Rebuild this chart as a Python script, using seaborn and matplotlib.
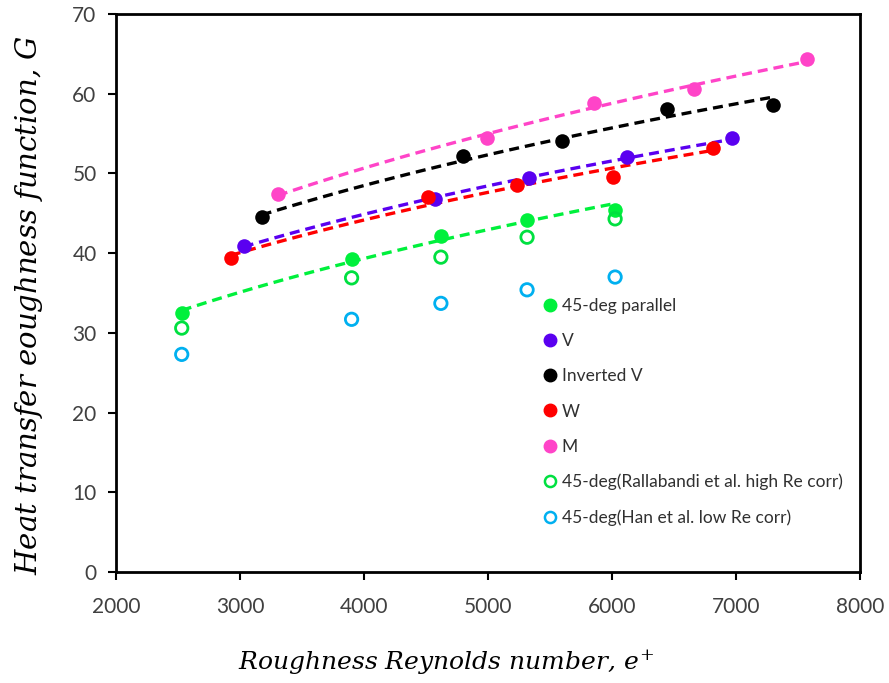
import numpy as np
import pandas as pd
import matplotlib
matplotlib.use("Agg")
import matplotlib.pyplot as plt
import seaborn as sns

sns.set_theme(style="white")
plt.rcParams['mathtext.fontset'] = 'dejavuserif'

# Data
re_45 = [2530, 3900, 4620, 5315, 6025]
g_45 = [32.5, 39.3, 42.2, 44.2, 45.4]

re_v = [3030, 4575, 5330, 6120, 6970]
g_v = [40.9, 46.8, 49.4, 52.0, 54.4]

re_inv = [3175, 4800, 5600, 6445, 7300]
g_inv = [44.5, 52.2, 54.1, 58.1, 58.6]

re_w = [2925, 4515, 5235, 6010, 6815]
g_w = [39.4, 47.0, 48.5, 49.6, 53.2]

re_m = [3305, 4990, 5855, 6660, 7575]
g_m = [47.4, 54.4, 58.8, 60.6, 64.4]

re_corr = [2530, 3900, 4620, 5315, 6025]
g_rallabandi = [30.6, 36.9, 39.5, 42.0, 44.3]
g_han = [27.3, 31.7, 33.7, 35.4, 37.0]

filled = [
    ("45-deg parallel", re_45, g_45, "#00F03C"),
    ("V", re_v, g_v, "#5A00F0"),
    ("Inverted V", re_inv, g_inv, "#000000"),
    ("W", re_w, g_w, "#FF0000"),
    ("M", re_m, g_m, "#FF44C8"),
]
hollow = [
    ("45-deg(Rallabandi et al. high Re corr)", re_corr, g_rallabandi, "#00E040"),
    ("45-deg(Han et al. low Re corr)", re_corr, g_han, "#00B0F0"),
]

fig = plt.figure(figsize=(8.89, 6.83), dpi=100)
ax = fig.add_axes([116 / 889, 1 - 572 / 683, (860 - 116) / 889, (572 - 14) / 683])

handles = []
for name, x, y, c in filled:
    x = np.array(x, dtype=float)
    y = np.array(y, dtype=float)
    # power-law trendline, like the spreadsheet one
    b, log_a = np.polyfit(np.log(x), np.log(y), 1)
    xf = np.linspace(x.min(), x.max(), 100)
    fit = pd.DataFrame({"x": xf, "y": np.exp(log_a) * xf ** b})
    sns.lineplot(data=fit, x="x", y="y", ax=ax, color=c, lw=2.4, zorder=2)
    ax.lines[-1].set_dashes((3, 1.8))
    sns.scatterplot(x=x, y=y, ax=ax, color=c, s=110, edgecolor=c,
                    linewidth=0, zorder=3)
    handles.append(plt.Line2D([], [], ls="", marker="o", color=c, ms=9, label=name))

for name, x, y, c in hollow:
    sns.scatterplot(x=x, y=y, ax=ax, marker="o", s=80, facecolors="none",
                    edgecolor=c, linewidth=2, zorder=3)
    handles.append(plt.Line2D([], [], ls="", marker="o", mfc="none", mec=c,
                              mew=1.8, ms=8, label=name))

ax.set_xlim(2000, 8000)
ax.set_ylim(0, 70)
ax.set_xticks(range(2000, 8001, 1000))
ax.set_yticks(range(0, 71, 10))

for s in ax.spines.values():
    s.set_color("black")
    s.set_linewidth(2)
ax.tick_params(axis="both", direction="out", length=6, width=1.5, color="black",
               labelsize=15, labelcolor="#404040", bottom=True, left=True)
ax.tick_params(axis="x", pad=12)
ax.tick_params(axis="y", pad=8)
for lab in ax.get_xticklabels() + ax.get_yticklabels():
    lab.set_family("Lato")

ax.set_xlabel("Roughness Reynolds number, $e^{+}$", family="DejaVu Serif",
              style="italic", fontsize=18, color="black")
ax.xaxis.set_label_coords(0.443, -0.135)
ax.set_ylabel("Heat transfer eoughness function, $G$", family="DejaVu Serif",
              style="italic", fontsize=21, color="black")
ax.yaxis.set_label_coords(-0.096, 0.478)

leg = ax.legend(handles=handles, loc="upper left", bbox_to_anchor=(0.563, 0.503),
                frameon=False, handletextpad=0.15, handlelength=1.0,
                labelspacing=1.1, borderaxespad=0,
                prop={"family": "Lato", "size": 12.5})
for t in leg.get_texts():
    t.set_color("#303030")

fig.savefig("out.png", dpi=100)
